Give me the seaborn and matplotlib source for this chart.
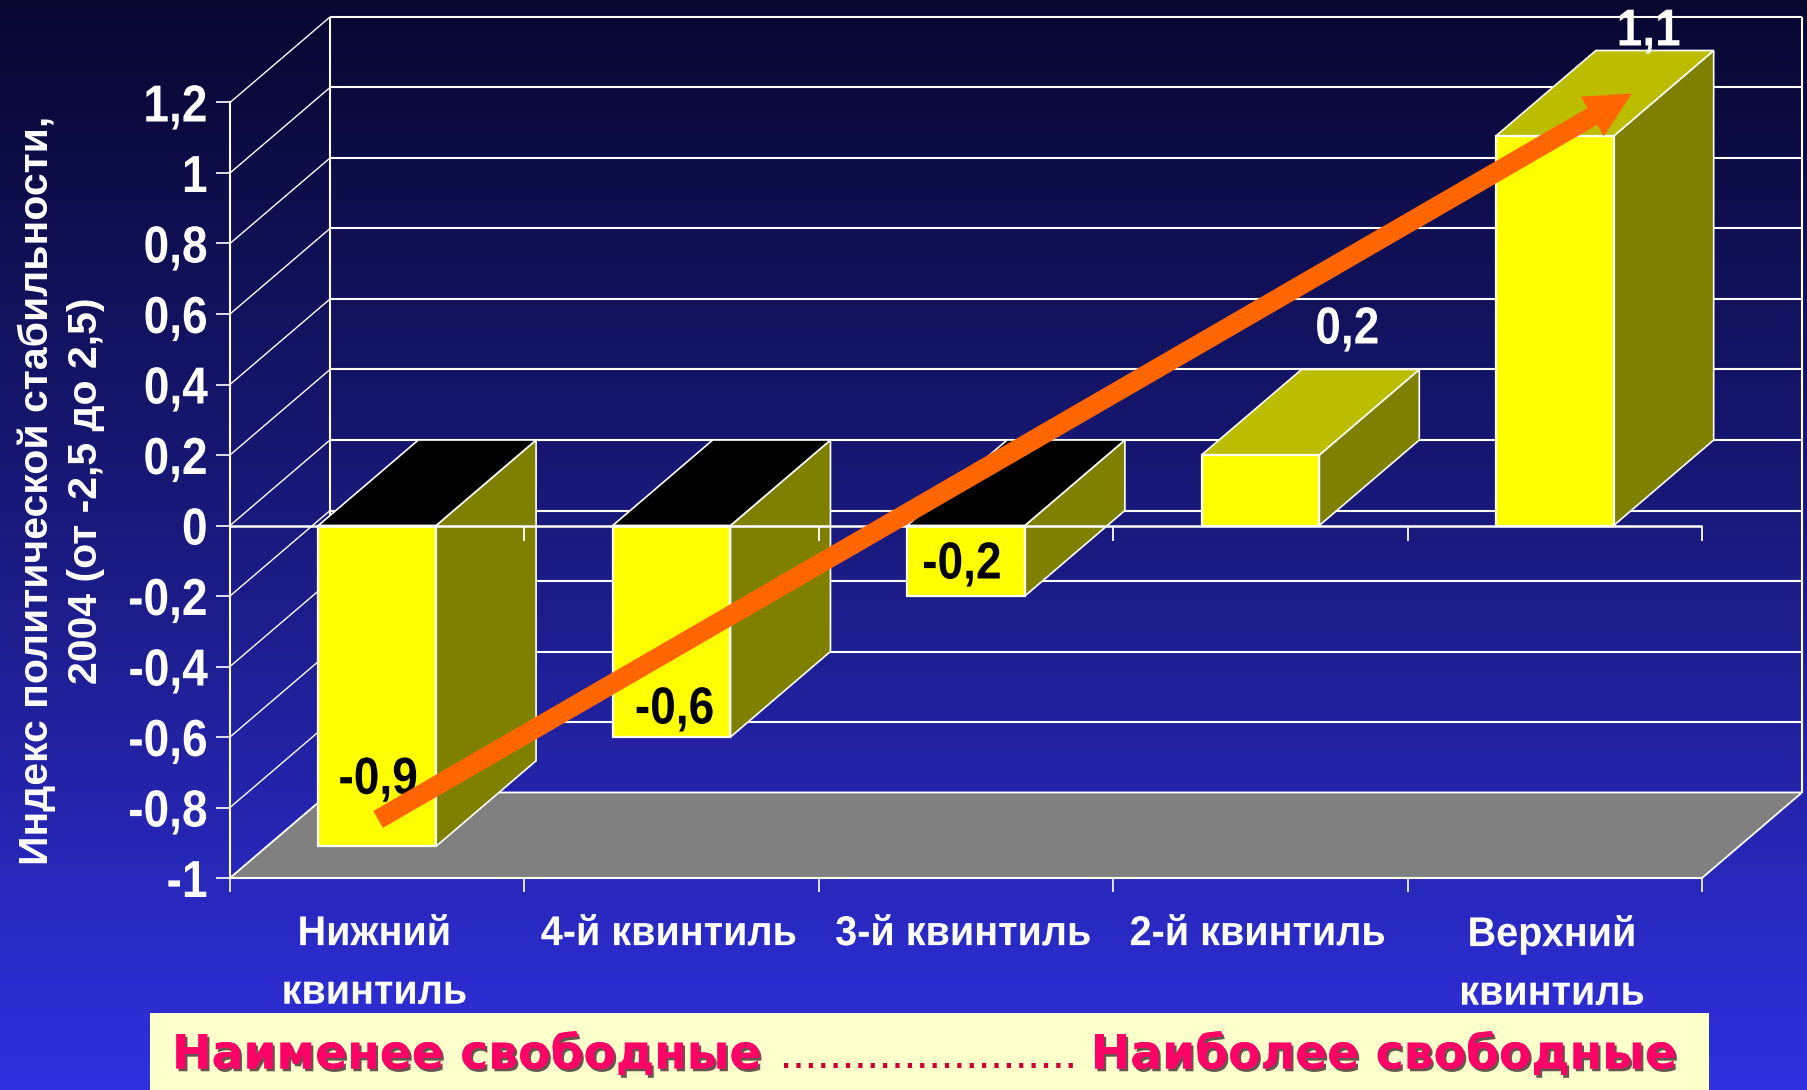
import numpy as np
import pandas as pd
import matplotlib
matplotlib.use("Agg")
import matplotlib.pyplot as plt
import matplotlib.patheffects as pe
from matplotlib.colors import LinearSegmentedColormap
from matplotlib.patches import FancyArrowPatch, Rectangle
from matplotlib.transforms import Affine2D, ScaledTranslation
import seaborn as sns

categories = ["Нижний\nквинтиль", "4-й квинтиль", "3-й квинтиль", "2-й квинтиль", "Верхний\nквинтиль"]
values = [-0.91, -0.60, -0.20, 0.20, 1.105]
value_labels = ["-0,9", "-0,6", "-0,2", "0,2", "1,1"]
value_colors = ["black", "black", "black", "white", "white"]
y_ticks = [-1, -0.8, -0.6, -0.4, -0.2, 0, 0.2, 0.4, 0.6, 0.8, 1, 1.2]
y_tick_labels = ["-1", "-0,8", "-0,6", "-0,4", "-0,2", "0", "0,2", "0,4", "0,6", "0,8", "1", "1,2"]
y_title = "Индекс политической стабильности,\n2004 (от -2,5 до 2,5)"
left_caption = "Наименее свободные"
right_caption = "Наиболее свободные"
caption_dots = "." * 24

W, H = 1807, 1090
sns.set_theme(style="white")
plt.rcParams["font.family"] = ["Liberation Sans", "DejaVu Sans"]


class Squeeze(pe.AbstractPathEffect):
    """Narrow a text horizontally around a pivot so it keeps its height (condensed look)."""

    def __init__(self, s, pivot="center"):
        super().__init__()
        self.s, self.pivot = s, pivot

    def draw_path(self, renderer, gc, tpath, affine, rgbFace=None):
        xs = tpath.vertices[:, 0]
        cx = xs.max() if self.pivot == "right" else (xs.min() + xs.max()) / 2
        squeeze = Affine2D().translate(-cx, 0).scale(self.s, 1).translate(cx, 0)
        renderer.draw_path(gc, tpath, squeeze + affine, rgbFace)


fig = plt.figure(figsize=(W / 100, H / 100), dpi=100)

# background gradient
bg = fig.add_axes([0, 0, 1, 1], zorder=-1)
cmap = LinearSegmentedColormap.from_list("bg", ["#070730", "#1a1a80", "#3030e0"])
bg.imshow(np.linspace(0, 1, 256)[:, None], aspect="auto", cmap=cmap, extent=[0, W, H, 0])
bg.set_axis_off()

# the front plane of the pseudo-3D chart
X0, X1, Y_TOP, Y_BOT = 230, 1702, 102.5, 878
ax = fig.add_axes([X0 / W, 1 - Y_BOT / H, (X1 - X0) / W, (Y_BOT - Y_TOP) / H])
ax.patch.set_alpha(0)

df = pd.DataFrame({"cat": categories, "val": values})
sns.barplot(data=df, x="cat", y="val", ax=ax, color="#ffff00", saturation=1, width=0.40,
            edgecolor="white", linewidth=1.6, zorder=5, errorbar=None)
ax.set_xlim(-0.5, 4.5)
ax.set_ylim(-1, 1.2)

px_x = (X1 - X0) / 5
px_y = (Y_BOT - Y_TOP) / 2.2
dx = 100 / px_x
dy = 85.5 / px_y

WHITE = dict(color="white", clip_on=False, solid_capstyle="butt")
for t in y_ticks:
    ax.plot([-0.5 + dx, 4.5 + dx], [t + dy, t + dy], lw=1.5, zorder=1, **WHITE)
    ax.plot([-0.5, -0.5 + dx], [t, t + dy], lw=1.0, zorder=1, **WHITE)
ax.plot([-0.5 + dx] * 2, [-1 + dy, 1.2 + dy], lw=1.5, zorder=1, **WHITE)
ax.plot([4.5 + dx] * 2, [-1 + dy, 1.2 + dy], lw=1.5, zorder=1, **WHITE)

# floor
ax.fill([-0.5, 4.5, 4.5 + dx, -0.5 + dx], [-1, -1, -1 + dy, -1 + dy], facecolor="#808080",
        edgecolor="white", lw=1.3, zorder=2, clip_on=False)

# bar sides and tops, taken from the bars themselves
for bar in list(ax.containers[0]):
    l, r = bar.get_x(), bar.get_x() + bar.get_width()
    y0, h = bar.get_y(), bar.get_height()
    lo, hi = min(y0, y0 + h), max(y0, y0 + h)
    top_color = "#000000" if y0 + h < 0 else "#bdbd00"
    ax.fill([r, r + dx, r + dx, r], [lo, lo + dy, hi + dy, hi], facecolor="#808000",
            edgecolor="white", lw=1.2, zorder=4, clip_on=False)
    ax.fill([l, l + dx, r + dx, r], [hi, hi + dy, hi + dy, hi], facecolor=top_color,
            edgecolor="white", lw=1.2, zorder=4, clip_on=False)
    bar.set_clip_on(False)

# zero axis line with its ticks
edges = np.arange(6) - 0.5
ax.plot([-0.5, 4.5], [0, 0], lw=1.8, zorder=6, **WHITE)
for e in edges:
    ax.plot([e, e], [0, -15 / px_y], lw=1.3, zorder=4.5, **WHITE)

# axes furniture
for s in ["top", "right"]:
    ax.spines[s].set_visible(False)
for s in ["left", "bottom"]:
    ax.spines[s].set_color("white")
    ax.spines[s].set_linewidth(1.5)
    ax.spines[s].set_zorder(3)
ax.set_xticks(edges)
ax.set_xticklabels([])
ax.set_xticks(range(5), minor=True)
ax.set_xticklabels(categories, minor=True, color="white", fontsize=30, fontweight="bold",
                   linespacing=1.6, path_effects=[Squeeze(0.95)])
ax.tick_params(axis="x", which="major", length=10, width=1.2, color="white", bottom=True)
ax.tick_params(axis="x", which="minor", length=0, pad=26, bottom=True)
nudge = ScaledTranslation(-3 / 100, 0, fig.dpi_scale_trans)
for lab in ax.get_xticklabels(minor=True):
    lab.set_transform(lab.get_transform() + nudge)
ax.set_yticks(y_ticks)
ax.set_yticklabels(y_tick_labels, color="white", fontsize=37.5, fontweight="bold",
                   path_effects=[Squeeze(0.885, "right")])
ax.tick_params(axis="y", length=10, width=1.2, color="white", pad=6, left=True)
ax.set_xlabel("")
ax.set_ylabel(y_title, color="white", fontsize=29.5, fontweight="bold", linespacing=1.37)
ax.yaxis.set_label_coords(-(230 - 105) / (X1 - X0), 0.5)

# value labels: offset in pixels from the end of each bar
label_off_px = [(1, 66), (3, 27), (-4, 31), (87, 125), (94, 104)]
for i, (v, txt, c, off) in enumerate(zip(values, value_labels, value_colors, label_off_px)):
    ax.annotate(txt, (i, v), xytext=(off[0] * 0.72, off[1] * 0.72), textcoords="offset points",
                ha="center", va="center", color=c, fontsize=37.5, fontweight="bold",
                zorder=7, annotation_clip=False, path_effects=[Squeeze(0.885)])

# trend arrow
arrow = FancyArrowPatch((0.003, -0.834), (4.262, 1.2255), mutation_scale=1, shrinkA=0, shrinkB=0,
                        arrowstyle="simple,head_length=33,head_width=33,tail_width=14",
                        facecolor="#ff6600", edgecolor="none", zorder=8, clip_on=False)
ax.add_patch(arrow)

# caption band (figure pixels, top-down)
ov = fig.add_axes([0, 0, 1, 1], zorder=5)
ov.set_xlim(0, W)
ov.set_ylim(H, 0)
ov.set_axis_off()
ov.add_patch(Rectangle((150, 1013), 1559, 77, facecolor="#ffffcc", edgecolor="none"))
shadow = [pe.withSimplePatchShadow(offset=(1.6, -2.0), shadow_rgbFace="#4a3a3a", alpha=0.85), pe.Normal()]
cap_kw = dict(color="#ff0066", fontsize=34, fontweight="bold", family=["DejaVu Sans"],
              va="center", ha="center", path_effects=shadow)
ov.text(467, 1056, left_caption, **cap_kw)
ov.text(1384, 1056, right_caption, **cap_kw)
ov.text(929, 1056, caption_dots, color="#cc0033", fontsize=32, family=["Liberation Sans"],
        ha="center", va="center")

fig.savefig("out.png", dpi=100)
